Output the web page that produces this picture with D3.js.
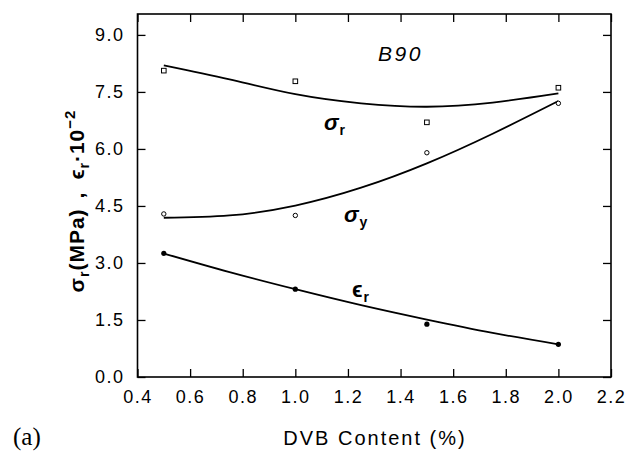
<!DOCTYPE html>
<html>
<head>
<meta charset="utf-8">
<script src="https://cdn.jsdelivr.net/npm/d3@7"></script>
<style>
  body { margin: 0; background: #fff; }
  svg text { font-family: "Liberation Sans", Arial, sans-serif; fill: #000; }
</style>
</head>
<body>
<div id="grafico"></div>
<script>
// dados (B90)
const dvb = [0.5, 1.0, 1.5, 2.0];
const sigmaR = [8.06, 7.78, 6.70, 7.61];   // quadrados abertos
const sigmaY = [4.29, 4.25, 5.90, 7.20];   // círculos abertos
const epsR = [3.25, 2.31, 1.39, 0.86];     // círculos cheios

// curvas ajustadas
const curvaX = [0.5, 0.75, 1.0, 1.25, 1.5, 1.75, 2.0];
const curvaSigmaR = [8.20, 7.83, 7.44, 7.20, 7.11, 7.22, 7.46];
const curvaSigmaY = [4.19, 4.25, 4.51, 4.98, 5.62, 6.40, 7.26];
const curvaEpsR = [3.25, 2.76, 2.31, 1.89, 1.51, 1.16, 0.86];

const xTicks = [0.4, 0.6, 0.8, 1.0, 1.2, 1.4, 1.6, 1.8, 2.0, 2.2];
const yTicks = [0, 1.5, 3.0, 4.5, 6.0, 7.5, 9.0];

function criarGrafico() {
  const largura = 628, altura = 451;
  const svg = d3.select('#grafico').append('svg')
    .attr('width', largura).attr('height', altura);

  const x = d3.scaleLinear().domain([0.4, 2.2]).range([137.5, 611]);
  const y = d3.scaleLinear().domain([0, 9.55]).range([377, 14]);

  // eixos com ticks para dentro
  svg.append('g').attr('transform', 'translate(0,377)')
    .call(d3.axisBottom(x).tickValues(xTicks).tickFormat(d3.format('.1f'))
      .tickSizeInner(-8).tickSizeOuter(0).tickPadding(13));
  svg.append('g').attr('transform', 'translate(137.5,0)')
    .call(d3.axisLeft(y).tickValues(yTicks).tickFormat(d3.format('.1f'))
      .tickSizeInner(-8).tickSizeOuter(0).tickPadding(13));
  svg.append('g').attr('transform', 'translate(0,14)')
    .call(d3.axisTop(x).tickValues(xTicks).tickFormat('').tickSizeInner(-8).tickSizeOuter(0));
  svg.append('g').attr('transform', 'translate(611,0)')
    .call(d3.axisRight(y).tickValues(yTicks).tickFormat('').tickSizeInner(-8).tickSizeOuter(0));

  svg.selectAll('.domain').remove();
  svg.selectAll('.tick line').attr('stroke', '#000').attr('stroke-width', 1.3);
  svg.selectAll('.tick text')
    .style('font-size', '18px').style('letter-spacing', '1.5px')
    .style('font-family', '"Liberation Sans", Arial, sans-serif');

  // moldura
  svg.append('rect')
    .attr('x', x(0.4)).attr('y', y(9.55))
    .attr('width', x(2.2) - x(0.4)).attr('height', y(0) - y(9.55))
    .attr('fill', 'none').attr('stroke', '#000').attr('stroke-width', 1.6);

  // curvas
  const linha = d3.line().curve(d3.curveNatural)
    .x((d) => x(d[0])).y((d) => y(d[1]));
  [curvaSigmaR, curvaSigmaY, curvaEpsR].forEach((c) => {
    svg.append('path')
      .datum(curvaX.map((v, i) => [v, c[i]]))
      .attr('d', linha)
      .attr('fill', 'none').attr('stroke', '#000').attr('stroke-width', 1.8);
  });

  // marcadores
  svg.selectAll('.quad').data(dvb).enter().append('rect')
    .attr('x', (d) => x(d) - 2.3).attr('y', (d, i) => y(sigmaR[i]) - 2.3)
    .attr('width', 4.6).attr('height', 4.6)
    .attr('fill', '#fff').attr('stroke', '#000').attr('stroke-width', 1);
  svg.selectAll('.circ').data(dvb).enter().append('circle')
    .attr('cx', (d) => x(d)).attr('cy', (d, i) => y(sigmaY[i])).attr('r', 2.2)
    .attr('fill', '#fff').attr('stroke', '#000').attr('stroke-width', 1);
  svg.selectAll('.ponto').data(dvb).enter().append('circle')
    .attr('cx', (d) => x(d)).attr('cy', (d, i) => y(epsR[i])).attr('r', 2.6)
    .attr('fill', '#000');

  // rótulos das curvas
  svg.append('text').attr('x', 378).attr('y', 61)
    .style('font-size', '21px').style('font-style', 'italic').style('letter-spacing', '2.5px')
    .text('B90');

  function rotulo(px, py, base, sub, estilo) {
    const t = svg.append('text').attr('x', px).attr('y', py)
      .style('font-size', '22px').style('font-weight', 'bold');
    t.append('tspan').style('font-style', estilo).text(base);
    t.append('tspan').attr('dy', 5).attr('dx', 1).style('font-size', '14px').text(sub);
  }
  rotulo(324, 130, 'σ', 'r', 'italic');
  rotulo(344, 222, 'σ', 'y', 'italic');
  rotulo(352, 297, 'ϵ', 'r', 'normal');

  // rótulo do eixo Y
  const ty = svg.append('text')
    .attr('transform', 'translate(84,201) rotate(-90)')
    .attr('text-anchor', 'middle')
    .style('font-size', '21px').style('font-weight', 'bold')
    .style('letter-spacing', '1px');
  ty.append('tspan').text('σ');
  ty.append('tspan').attr('dy', 5).style('font-size', '14px').text('r');
  ty.append('tspan').attr('dy', -5).text('(MPa)');
  ty.append('tspan').attr('dx', 10).text(',');
  ty.append('tspan').attr('dx', 12).text('ϵ');
  ty.append('tspan').attr('dy', 5).style('font-size', '14px').text('r');
  ty.append('tspan').attr('dy', -5).text('·10');
  ty.append('tspan').attr('dy', -9).style('font-size', '15px').text('−2');

  // rótulo do eixo X
  svg.append('text').attr('x', 375).attr('y', 445)
    .attr('text-anchor', 'middle')
    .style('font-size', '20px').style('letter-spacing', '2px')
    .text('DVB Content (%)');

  svg.append('text').attr('x', 13).attr('y', 445)
    .style('font-family', '"Liberation Serif", "Times New Roman", serif')
    .style('font-size', '25px')
    .text('(a)');
}

criarGrafico();
</script>
</body>
</html>
